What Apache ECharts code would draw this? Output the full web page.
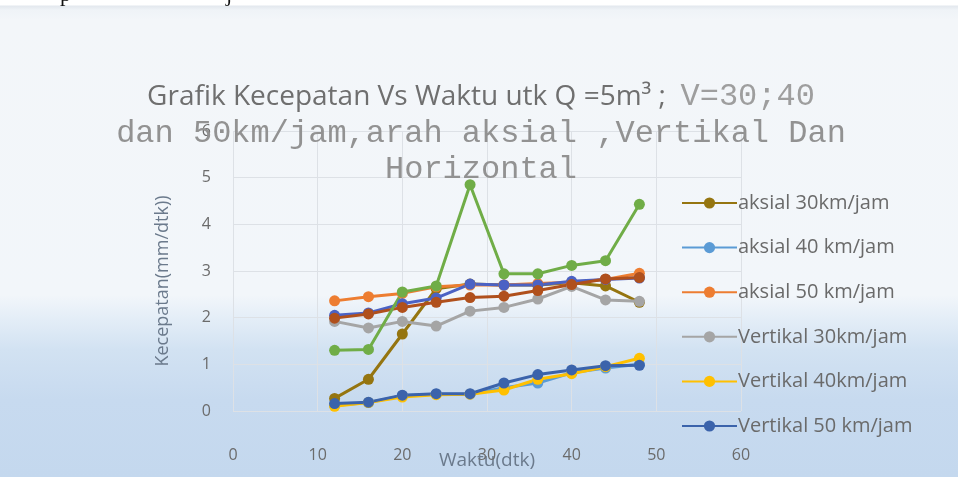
<!DOCTYPE html>
<html>
<head>
<meta charset="utf-8">
<script src="https://cdn.jsdelivr.net/npm/echarts@6/dist/echarts.min.js"></script>
<style>
html,body{margin:0;padding:0;background:#fff;}
#chart{width:958px;height:477px;
background:linear-gradient(to bottom,#ffffff 0px,#ffffff 5px,#e3e8ee 6px,#eff3f7 10px,#f3f6f9 20px,#f2f6fa 295px,#e3edf7 320px,#d2e2f2 350px,#c7daef 400px,#c4d8ee 477px);}
</style>
</head>
<body>
<div id="chart"></div>
<script>
// ---- data ----
var waktu = [12, 16, 20, 24, 28, 32, 36, 40, 44, 48];
var xTicks = [0, 10, 20, 30, 40, 50, 60];
var yTicks = [0, 1, 2, 3, 4, 5, 6];

var aksial30   = [0.27, 0.68, 1.65, 2.62, 2.72, 2.70, 2.70, 2.75, 2.68, 2.33];
var aksial40   = [0.12, 0.18, 0.33, 0.36, 0.36, 0.50, 0.60, 0.82, 0.92, 1.00];
var aksial50   = [2.36, 2.45, 2.52, 2.66, 2.70, 2.70, 2.73, 2.76, 2.82, 2.95];
var vertikal30 = [1.92, 1.78, 1.92, 1.82, 2.14, 2.22, 2.40, 2.67, 2.38, 2.35];
var vertikal40 = [0.10, 0.18, 0.30, 0.35, 0.36, 0.45, 0.68, 0.80, 0.95, 1.13];
var vertikal50 = [0.16, 0.19, 0.34, 0.37, 0.37, 0.60, 0.78, 0.88, 0.97, 0.98];
var horizontal30 = [1.30, 1.32, 2.55, 2.68, 4.85, 2.94, 2.94, 3.12, 3.22, 4.43];
var horizontal40 = [2.05, 2.10, 2.30, 2.42, 2.72, 2.70, 2.70, 2.78, 2.82, 2.85];
var horizontal50 = [1.99, 2.08, 2.22, 2.33, 2.43, 2.46, 2.58, 2.71, 2.83, 2.86];

var names = ['aksial 30km/jam','aksial 40 km/jam','aksial 50 km/jam','Vertikal 30km/jam','Vertikal 40km/jam','Vertikal 50 km/jam','Horizontal 30km/jam','Horizontal 40km/jam','Horizontal 50 km/jam'];
var legendNames = names.slice(0, 6);
var values = [aksial30, aksial40, aksial50, vertikal30, vertikal40, vertikal50, horizontal30, horizontal40, horizontal50];
var colors = ['#957510', '#5b9bd5', '#ed7d31', '#a5a5a5', '#ffc000', '#3b63ab', '#70ad47', '#4b62c4', '#b0501c'];

var drawOrder = [0, 1, 2, 3, 4, 7, 8, 6, 5];

var chart = echarts.init(document.getElementById('chart'), null, {renderer: 'canvas'});
var sans = '"Open Sans", "Noto Sans", sans-serif';
var mono = '"Liberation Mono", "DejaVu Sans Mono", monospace';

var series = drawOrder.map(function (i) {
  return {
    name: names[i],
    type: 'line',
    data: waktu.map(function (x, k) { return [x, values[i][k]]; }),
    symbol: 'circle',
    symbolSize: 11,
    itemStyle: {color: colors[i]},
    lineStyle: {color: colors[i], width: 3},
    z: 2
  };
});

chart.setOption({
  backgroundColor: 'transparent',
  animation: false,
  color: colors,
  title: [
    {
      text: '{s|Grafik Kecepatan Vs Waktu utk Q =5m³ ;  }{m|V=30;40}',
      left: 481, top: 79, textAlign: 'center', padding: 0,
      textStyle: {
        fontWeight: 'normal',
        rich: {
          s: {fontFamily: sans, fontSize: 28, fontWeight: 'normal', color: '#6f6f6f', lineHeight: 36},
          m: {fontFamily: mono, fontSize: 32, fontWeight: 'normal', color: '#9e9e9e', lineHeight: 36}
        }
      }
    },
    {
      text: 'dan 50km/jam,arah aksial ,Vertikal Dan',
      left: 481, top: 116, textAlign: 'center', padding: 0,
      textStyle: {fontFamily: mono, fontSize: 32, color: '#929292', fontWeight: 'normal', lineHeight: 36}
    },
    {
      text: 'Horizontal',
      left: 481, top: 152, textAlign: 'center', padding: 0,
      textStyle: {fontFamily: mono, fontSize: 32, color: '#929292', fontWeight: 'normal', lineHeight: 36}
    }
  ],
  grid: {left: 233, right: 217, top: 131, bottom: 66, containLabel: false, outerBoundsMode: 'none'},
  xAxis: {
    type: 'value', min: xTicks[0], max: xTicks[xTicks.length - 1], interval: 10,
    axisLine: {show: false}, axisTick: {show: false},
    splitLine: {show: true, lineStyle: {color: '#dde1e6', width: 1}},
    axisLabel: {color: '#6b6b6b', fontFamily: sans, fontSize: 16, margin: 36},
    name: 'Waktu(dtk)', nameLocation: 'middle', nameGap: 40, nameMoveOverlap: false,
    nameTextStyle: {color: '#6b7a8c', fontFamily: sans, fontSize: 19}
  },
  yAxis: {
    type: 'value', min: yTicks[0], max: yTicks[yTicks.length - 1], interval: 1,
    axisLine: {show: false}, axisTick: {show: false},
    splitLine: {show: true, lineStyle: {color: '#dde1e6', width: 1}},
    axisLabel: {color: '#6b6b6b', fontFamily: sans, fontSize: 16, margin: 22}
  },
  legend: {
    data: legendNames,
    orient: 'vertical',
    left: 681, top: 193,
    itemWidth: 55, itemHeight: 14, itemGap: 24.6,
    padding: 0,
    textStyle: {color: '#6a6a6a', fontFamily: sans, fontSize: 20, lineHeight: 20, padding: [0, 0, 0, -4]}
  },
  graphic: [
    {
      type: 'text', x: 163, y: 281, rotation: Math.PI / 2,
      style: {text: 'Kecepatan(mm/dtk))', fill: '#6b7a8c', font: '18px ' + sans, align: 'center', verticalAlign: 'middle'}
    },
    {
      type: 'text', x: 60, y: 6,
      style: {text: 'p', fill: '#111', font: '22px "Liberation Serif", serif', align: 'left', verticalAlign: 'bottom'}
    },
    {
      type: 'text', x: 226, y: 6,
      style: {text: 'j', fill: '#111', font: '22px "Liberation Serif", serif', align: 'left', verticalAlign: 'bottom'}
    }
  ],
  series: series
});
</script>
</body>
</html>
